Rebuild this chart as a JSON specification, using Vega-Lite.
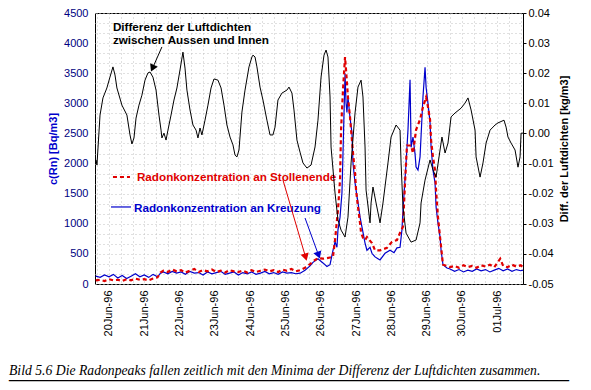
{
  "$schema": "https://vega.github.io/schema/vega-lite/v6.json",
  "width": 428,
  "height": 271,
  "autosize": {"type": "none"},
  "padding": {"left": 95, "top": 13, "right": 68, "bottom": 106},
  "background": "white",
  "config": {
    "view": {"stroke": "black", "strokeWidth": 1, "fill": "white"},
    "font": "Liberation Sans",
    "axis": {"labelFont": "Liberation Sans", "titleFont": "Liberation Sans", "labelFontSize": 11, "titleFontSize": 11, "labelOverlap": false},
    "axisX": {"labelOverlap": false}
  },
  "title": {
    "text": "Bild 5.6  Die Radonpeaks fallen zeitlich mit den Minima der Differenz der Luftdichten zusammen.",
    "subtitle": "________________________________________________________",
    "orient": "bottom",
    "anchor": "start",
    "frame": "group",
    "dx": -86,
    "offset": 28,
    "font": "Liberation Serif",
    "fontStyle": "italic",
    "fontWeight": "normal",
    "fontSize": 13.7,
    "color": "black",
    "subtitleFont": "Liberation Serif",
    "subtitleFontStyle": "normal",
    "subtitleFontSize": 20,
    "subtitleColor": "black",
    "subtitlePadding": -16
  },
  "datasets": {
    "radon": [
      {"t": "1996-06-19T15:00", "ort": "Kreuzung", "c": 130},
      {"t": "1996-06-19T18:00", "ort": "Kreuzung", "c": 110},
      {"t": "1996-06-19T21:00", "ort": "Kreuzung", "c": 150},
      {"t": "1996-06-20T00:00", "ort": "Kreuzung", "c": 120},
      {"t": "1996-06-20T03:00", "ort": "Kreuzung", "c": 160},
      {"t": "1996-06-20T06:00", "ort": "Kreuzung", "c": 100},
      {"t": "1996-06-20T09:00", "ort": "Kreuzung", "c": 140},
      {"t": "1996-06-20T12:00", "ort": "Kreuzung", "c": 90},
      {"t": "1996-06-20T15:00", "ort": "Kreuzung", "c": 130},
      {"t": "1996-06-20T18:00", "ort": "Kreuzung", "c": 170},
      {"t": "1996-06-20T21:00", "ort": "Kreuzung", "c": 120},
      {"t": "1996-06-21T00:00", "ort": "Kreuzung", "c": 150},
      {"t": "1996-06-21T03:00", "ort": "Kreuzung", "c": 110},
      {"t": "1996-06-21T06:00", "ort": "Kreuzung", "c": 160},
      {"t": "1996-06-21T09:00", "ort": "Kreuzung", "c": 120},
      {"t": "1996-06-21T11:00", "ort": "Kreuzung", "c": 180},
      {"t": "1996-06-21T13:00", "ort": "Kreuzung", "c": 200},
      {"t": "1996-06-21T16:00", "ort": "Kreuzung", "c": 170},
      {"t": "1996-06-21T19:00", "ort": "Kreuzung", "c": 210},
      {"t": "1996-06-21T22:00", "ort": "Kreuzung", "c": 180},
      {"t": "1996-06-22T01:00", "ort": "Kreuzung", "c": 200},
      {"t": "1996-06-22T04:00", "ort": "Kreuzung", "c": 160},
      {"t": "1996-06-22T07:00", "ort": "Kreuzung", "c": 210},
      {"t": "1996-06-22T10:00", "ort": "Kreuzung", "c": 180},
      {"t": "1996-06-22T13:00", "ort": "Kreuzung", "c": 190},
      {"t": "1996-06-22T16:00", "ort": "Kreuzung", "c": 150},
      {"t": "1996-06-22T19:00", "ort": "Kreuzung", "c": 200},
      {"t": "1996-06-22T22:00", "ort": "Kreuzung", "c": 170},
      {"t": "1996-06-23T01:00", "ort": "Kreuzung", "c": 190},
      {"t": "1996-06-23T04:00", "ort": "Kreuzung", "c": 210},
      {"t": "1996-06-23T07:00", "ort": "Kreuzung", "c": 160},
      {"t": "1996-06-23T10:00", "ort": "Kreuzung", "c": 180},
      {"t": "1996-06-23T13:00", "ort": "Kreuzung", "c": 200},
      {"t": "1996-06-23T16:00", "ort": "Kreuzung", "c": 150},
      {"t": "1996-06-23T19:00", "ort": "Kreuzung", "c": 190},
      {"t": "1996-06-23T22:00", "ort": "Kreuzung", "c": 170},
      {"t": "1996-06-24T01:00", "ort": "Kreuzung", "c": 200},
      {"t": "1996-06-24T04:00", "ort": "Kreuzung", "c": 160},
      {"t": "1996-06-24T07:00", "ort": "Kreuzung", "c": 180},
      {"t": "1996-06-24T10:00", "ort": "Kreuzung", "c": 210},
      {"t": "1996-06-24T13:00", "ort": "Kreuzung", "c": 170},
      {"t": "1996-06-24T16:00", "ort": "Kreuzung", "c": 190},
      {"t": "1996-06-24T19:00", "ort": "Kreuzung", "c": 160},
      {"t": "1996-06-24T22:00", "ort": "Kreuzung", "c": 200},
      {"t": "1996-06-25T01:00", "ort": "Kreuzung", "c": 180},
      {"t": "1996-06-25T04:00", "ort": "Kreuzung", "c": 190},
      {"t": "1996-06-25T07:00", "ort": "Kreuzung", "c": 170},
      {"t": "1996-06-25T10:00", "ort": "Kreuzung", "c": 180},
      {"t": "1996-06-25T13:18", "ort": "Kreuzung", "c": 230},
      {"t": "1996-06-25T16:42", "ort": "Kreuzung", "c": 300},
      {"t": "1996-06-25T18:42", "ort": "Kreuzung", "c": 360},
      {"t": "1996-06-25T22:06", "ort": "Kreuzung", "c": 420},
      {"t": "1996-06-26T01:30", "ort": "Kreuzung", "c": 350},
      {"t": "1996-06-26T04:12", "ort": "Kreuzung", "c": 290},
      {"t": "1996-06-26T06:18", "ort": "Kreuzung", "c": 320},
      {"t": "1996-06-26T08:18", "ort": "Kreuzung", "c": 560},
      {"t": "1996-06-26T09:42", "ort": "Kreuzung", "c": 700},
      {"t": "1996-06-26T11:00", "ort": "Kreuzung", "c": 610},
      {"t": "1996-06-26T11:42", "ort": "Kreuzung", "c": 900},
      {"t": "1996-06-26T13:06", "ort": "Kreuzung", "c": 1110},
      {"t": "1996-06-26T14:24", "ort": "Kreuzung", "c": 1510},
      {"t": "1996-06-26T15:06", "ort": "Kreuzung", "c": 2160},
      {"t": "1996-06-26T16:30", "ort": "Kreuzung", "c": 3500},
      {"t": "1996-06-26T17:12", "ort": "Kreuzung", "c": 3000},
      {"t": "1996-06-26T17:48", "ort": "Kreuzung", "c": 2850},
      {"t": "1996-06-26T18:30", "ort": "Kreuzung", "c": 3100},
      {"t": "1996-06-26T19:54", "ort": "Kreuzung", "c": 2760},
      {"t": "1996-06-26T21:12", "ort": "Kreuzung", "c": 2510},
      {"t": "1996-06-26T21:54", "ort": "Kreuzung", "c": 2010},
      {"t": "1996-06-26T23:18", "ort": "Kreuzung", "c": 1680},
      {"t": "1996-06-27T00:00", "ort": "Kreuzung", "c": 1560},
      {"t": "1996-06-27T01:18", "ort": "Kreuzung", "c": 1350},
      {"t": "1996-06-27T02:42", "ort": "Kreuzung", "c": 1110},
      {"t": "1996-06-27T04:00", "ort": "Kreuzung", "c": 950},
      {"t": "1996-06-27T06:06", "ort": "Kreuzung", "c": 680},
      {"t": "1996-06-27T07:24", "ort": "Kreuzung", "c": 560},
      {"t": "1996-06-27T09:30", "ort": "Kreuzung", "c": 610},
      {"t": "1996-06-27T10:48", "ort": "Kreuzung", "c": 510},
      {"t": "1996-06-27T12:54", "ort": "Kreuzung", "c": 450},
      {"t": "1996-06-27T14:54", "ort": "Kreuzung", "c": 420},
      {"t": "1996-06-27T16:18", "ort": "Kreuzung", "c": 400},
      {"t": "1996-06-27T19:42", "ort": "Kreuzung", "c": 510},
      {"t": "1996-06-27T23:06", "ort": "Kreuzung", "c": 560},
      {"t": "1996-06-28T01:48", "ort": "Kreuzung", "c": 520},
      {"t": "1996-06-28T03:48", "ort": "Kreuzung", "c": 600},
      {"t": "1996-06-28T05:54", "ort": "Kreuzung", "c": 610},
      {"t": "1996-06-28T07:12", "ort": "Kreuzung", "c": 900},
      {"t": "1996-06-28T07:54", "ort": "Kreuzung", "c": 1230},
      {"t": "1996-06-28T10:00", "ort": "Kreuzung", "c": 2010},
      {"t": "1996-06-28T11:18", "ort": "Kreuzung", "c": 2560},
      {"t": "1996-06-28T12:42", "ort": "Kreuzung", "c": 3390},
      {"t": "1996-06-28T13:24", "ort": "Kreuzung", "c": 2270},
      {"t": "1996-06-28T14:42", "ort": "Kreuzung", "c": 2440},
      {"t": "1996-06-28T16:06", "ort": "Kreuzung", "c": 2160},
      {"t": "1996-06-28T16:48", "ort": "Kreuzung", "c": 1940},
      {"t": "1996-06-28T18:06", "ort": "Kreuzung", "c": 1890},
      {"t": "1996-06-28T19:30", "ort": "Kreuzung", "c": 2110},
      {"t": "1996-06-28T21:30", "ort": "Kreuzung", "c": 3110},
      {"t": "1996-06-28T22:54", "ort": "Kreuzung", "c": 3600},
      {"t": "1996-06-28T23:36", "ort": "Kreuzung", "c": 3270},
      {"t": "1996-06-29T00:54", "ort": "Kreuzung", "c": 3000},
      {"t": "1996-06-29T02:18", "ort": "Kreuzung", "c": 2680},
      {"t": "1996-06-29T03:00", "ort": "Kreuzung", "c": 2280},
      {"t": "1996-06-29T04:18", "ort": "Kreuzung", "c": 1890},
      {"t": "1996-06-29T05:42", "ort": "Kreuzung", "c": 1680},
      {"t": "1996-06-29T06:24", "ort": "Kreuzung", "c": 1280},
      {"t": "1996-06-29T07:42", "ort": "Kreuzung", "c": 1010},
      {"t": "1996-06-29T09:06", "ort": "Kreuzung", "c": 780},
      {"t": "1996-06-29T09:48", "ort": "Kreuzung", "c": 560},
      {"t": "1996-06-29T11:06", "ort": "Kreuzung", "c": 320},
      {"t": "1996-06-29T13:48", "ort": "Kreuzung", "c": 265},
      {"t": "1996-06-29T15:54", "ort": "Kreuzung", "c": 250},
      {"t": "1996-06-29T19:00", "ort": "Kreuzung", "c": 210},
      {"t": "1996-06-29T22:00", "ort": "Kreuzung", "c": 240},
      {"t": "1996-06-30T01:00", "ort": "Kreuzung", "c": 200},
      {"t": "1996-06-30T04:00", "ort": "Kreuzung", "c": 230},
      {"t": "1996-06-30T07:00", "ort": "Kreuzung", "c": 210},
      {"t": "1996-06-30T10:00", "ort": "Kreuzung", "c": 250},
      {"t": "1996-06-30T13:00", "ort": "Kreuzung", "c": 220},
      {"t": "1996-06-30T16:00", "ort": "Kreuzung", "c": 240},
      {"t": "1996-06-30T19:00", "ort": "Kreuzung", "c": 200},
      {"t": "1996-06-30T22:00", "ort": "Kreuzung", "c": 230},
      {"t": "1996-07-01T01:00", "ort": "Kreuzung", "c": 260},
      {"t": "1996-07-01T04:00", "ort": "Kreuzung", "c": 220},
      {"t": "1996-07-01T07:00", "ort": "Kreuzung", "c": 250},
      {"t": "1996-07-01T10:00", "ort": "Kreuzung", "c": 210},
      {"t": "1996-07-01T13:00", "ort": "Kreuzung", "c": 240},
      {"t": "1996-07-01T16:00", "ort": "Kreuzung", "c": 220},
      {"t": "1996-07-01T17:30", "ort": "Kreuzung", "c": 230},
      {"t": "1996-06-19T15:00", "ort": "Stollenende", "c": 60},
      {"t": "1996-06-19T18:00", "ort": "Stollenende", "c": 70},
      {"t": "1996-06-19T21:00", "ort": "Stollenende", "c": 50},
      {"t": "1996-06-20T00:00", "ort": "Stollenende", "c": 80},
      {"t": "1996-06-20T03:00", "ort": "Stollenende", "c": 60},
      {"t": "1996-06-20T06:00", "ort": "Stollenende", "c": 70},
      {"t": "1996-06-20T09:00", "ort": "Stollenende", "c": 50},
      {"t": "1996-06-20T12:00", "ort": "Stollenende", "c": 80},
      {"t": "1996-06-20T15:00", "ort": "Stollenende", "c": 60},
      {"t": "1996-06-20T18:00", "ort": "Stollenende", "c": 90},
      {"t": "1996-06-20T21:00", "ort": "Stollenende", "c": 70},
      {"t": "1996-06-21T00:00", "ort": "Stollenende", "c": 80},
      {"t": "1996-06-21T03:00", "ort": "Stollenende", "c": 60},
      {"t": "1996-06-21T06:00", "ort": "Stollenende", "c": 90},
      {"t": "1996-06-21T09:00", "ort": "Stollenende", "c": 110},
      {"t": "1996-06-21T11:00", "ort": "Stollenende", "c": 190},
      {"t": "1996-06-21T13:00", "ort": "Stollenende", "c": 220},
      {"t": "1996-06-21T16:00", "ort": "Stollenende", "c": 200},
      {"t": "1996-06-21T19:00", "ort": "Stollenende", "c": 240},
      {"t": "1996-06-21T22:00", "ort": "Stollenende", "c": 210},
      {"t": "1996-06-22T01:00", "ort": "Stollenende", "c": 230},
      {"t": "1996-06-22T04:00", "ort": "Stollenende", "c": 190},
      {"t": "1996-06-22T07:00", "ort": "Stollenende", "c": 220},
      {"t": "1996-06-22T10:00", "ort": "Stollenende", "c": 250},
      {"t": "1996-06-22T13:00", "ort": "Stollenende", "c": 200},
      {"t": "1996-06-22T16:00", "ort": "Stollenende", "c": 230},
      {"t": "1996-06-22T19:00", "ort": "Stollenende", "c": 210},
      {"t": "1996-06-22T22:00", "ort": "Stollenende", "c": 240},
      {"t": "1996-06-23T01:00", "ort": "Stollenende", "c": 200},
      {"t": "1996-06-23T04:00", "ort": "Stollenende", "c": 220},
      {"t": "1996-06-23T07:00", "ort": "Stollenende", "c": 190},
      {"t": "1996-06-23T10:00", "ort": "Stollenende", "c": 230},
      {"t": "1996-06-23T13:00", "ort": "Stollenende", "c": 210},
      {"t": "1996-06-23T16:00", "ort": "Stollenende", "c": 200},
      {"t": "1996-06-23T19:00", "ort": "Stollenende", "c": 220},
      {"t": "1996-06-23T22:00", "ort": "Stollenende", "c": 190},
      {"t": "1996-06-24T01:00", "ort": "Stollenende", "c": 230},
      {"t": "1996-06-24T04:00", "ort": "Stollenende", "c": 200},
      {"t": "1996-06-24T07:00", "ort": "Stollenende", "c": 220},
      {"t": "1996-06-24T10:00", "ort": "Stollenende", "c": 240},
      {"t": "1996-06-24T13:00", "ort": "Stollenende", "c": 210},
      {"t": "1996-06-24T16:00", "ort": "Stollenende", "c": 230},
      {"t": "1996-06-24T19:00", "ort": "Stollenende", "c": 200},
      {"t": "1996-06-24T22:00", "ort": "Stollenende", "c": 240},
      {"t": "1996-06-25T01:00", "ort": "Stollenende", "c": 220},
      {"t": "1996-06-25T04:00", "ort": "Stollenende", "c": 250},
      {"t": "1996-06-25T07:00", "ort": "Stollenende", "c": 210},
      {"t": "1996-06-25T10:00", "ort": "Stollenende", "c": 230},
      {"t": "1996-06-25T13:18", "ort": "Stollenende", "c": 270},
      {"t": "1996-06-25T16:42", "ort": "Stollenende", "c": 330},
      {"t": "1996-06-25T19:00", "ort": "Stollenende", "c": 380},
      {"t": "1996-06-25T22:06", "ort": "Stollenende", "c": 430},
      {"t": "1996-06-26T01:30", "ort": "Stollenende", "c": 420},
      {"t": "1996-06-26T04:12", "ort": "Stollenende", "c": 430},
      {"t": "1996-06-26T06:18", "ort": "Stollenende", "c": 440},
      {"t": "1996-06-26T08:18", "ort": "Stollenende", "c": 450},
      {"t": "1996-06-26T09:42", "ort": "Stollenende", "c": 730},
      {"t": "1996-06-26T11:42", "ort": "Stollenende", "c": 1230},
      {"t": "1996-06-26T13:06", "ort": "Stollenende", "c": 1730},
      {"t": "1996-06-26T13:48", "ort": "Stollenende", "c": 2560},
      {"t": "1996-06-26T15:06", "ort": "Stollenende", "c": 3220},
      {"t": "1996-06-26T16:30", "ort": "Stollenende", "c": 3770},
      {"t": "1996-06-26T17:12", "ort": "Stollenende", "c": 3550},
      {"t": "1996-06-26T18:30", "ort": "Stollenende", "c": 3100},
      {"t": "1996-06-26T19:54", "ort": "Stollenende", "c": 2770},
      {"t": "1996-06-26T20:36", "ort": "Stollenende", "c": 2560},
      {"t": "1996-06-26T21:54", "ort": "Stollenende", "c": 2180},
      {"t": "1996-06-26T23:18", "ort": "Stollenende", "c": 1840},
      {"t": "1996-06-27T00:00", "ort": "Stollenende", "c": 1560},
      {"t": "1996-06-27T01:18", "ort": "Stollenende", "c": 1280},
      {"t": "1996-06-27T02:42", "ort": "Stollenende", "c": 1010},
      {"t": "1996-06-27T03:24", "ort": "Stollenende", "c": 850},
      {"t": "1996-06-27T04:42", "ort": "Stollenende", "c": 770},
      {"t": "1996-06-27T06:06", "ort": "Stollenende", "c": 730},
      {"t": "1996-06-27T07:24", "ort": "Stollenende", "c": 780},
      {"t": "1996-06-27T10:48", "ort": "Stollenende", "c": 680},
      {"t": "1996-06-27T12:54", "ort": "Stollenende", "c": 560},
      {"t": "1996-06-27T16:18", "ort": "Stollenende", "c": 560},
      {"t": "1996-06-27T21:00", "ort": "Stollenende", "c": 600},
      {"t": "1996-06-28T00:24", "ort": "Stollenende", "c": 700},
      {"t": "1996-06-28T03:48", "ort": "Stollenende", "c": 730},
      {"t": "1996-06-28T05:54", "ort": "Stollenende", "c": 850},
      {"t": "1996-06-28T07:54", "ort": "Stollenende", "c": 950},
      {"t": "1996-06-28T09:18", "ort": "Stollenende", "c": 1680},
      {"t": "1996-06-28T10:36", "ort": "Stollenende", "c": 2300},
      {"t": "1996-06-28T13:24", "ort": "Stollenende", "c": 2300},
      {"t": "1996-06-28T14:42", "ort": "Stollenende", "c": 2170},
      {"t": "1996-06-28T16:48", "ort": "Stollenende", "c": 2560},
      {"t": "1996-06-28T19:30", "ort": "Stollenende", "c": 2730},
      {"t": "1996-06-28T21:30", "ort": "Stollenende", "c": 2940},
      {"t": "1996-06-28T23:36", "ort": "Stollenende", "c": 3100},
      {"t": "1996-06-29T00:54", "ort": "Stollenende", "c": 2940},
      {"t": "1996-06-29T02:18", "ort": "Stollenende", "c": 2730},
      {"t": "1996-06-29T03:00", "ort": "Stollenende", "c": 2390},
      {"t": "1996-06-29T04:18", "ort": "Stollenende", "c": 2110},
      {"t": "1996-06-29T05:42", "ort": "Stollenende", "c": 1890},
      {"t": "1996-06-29T06:24", "ort": "Stollenende", "c": 1560},
      {"t": "1996-06-29T07:42", "ort": "Stollenende", "c": 1110},
      {"t": "1996-06-29T09:06", "ort": "Stollenende", "c": 780},
      {"t": "1996-06-29T11:06", "ort": "Stollenende", "c": 320},
      {"t": "1996-06-29T13:48", "ort": "Stollenende", "c": 300},
      {"t": "1996-06-29T15:54", "ort": "Stollenende", "c": 280},
      {"t": "1996-06-29T19:00", "ort": "Stollenende", "c": 300},
      {"t": "1996-06-29T22:00", "ort": "Stollenende", "c": 270},
      {"t": "1996-06-30T01:00", "ort": "Stollenende", "c": 310},
      {"t": "1996-06-30T04:00", "ort": "Stollenende", "c": 280},
      {"t": "1996-06-30T07:00", "ort": "Stollenende", "c": 300},
      {"t": "1996-06-30T10:00", "ort": "Stollenende", "c": 270},
      {"t": "1996-06-30T13:00", "ort": "Stollenende", "c": 310},
      {"t": "1996-06-30T16:00", "ort": "Stollenende", "c": 290},
      {"t": "1996-06-30T19:00", "ort": "Stollenende", "c": 320},
      {"t": "1996-06-30T22:00", "ort": "Stollenende", "c": 280},
      {"t": "1996-07-01T02:00", "ort": "Stollenende", "c": 420},
      {"t": "1996-07-01T04:00", "ort": "Stollenende", "c": 300},
      {"t": "1996-07-01T07:00", "ort": "Stollenende", "c": 280},
      {"t": "1996-07-01T10:00", "ort": "Stollenende", "c": 320},
      {"t": "1996-07-01T13:00", "ort": "Stollenende", "c": 290},
      {"t": "1996-07-01T16:00", "ort": "Stollenende", "c": 310},
      {"t": "1996-07-01T17:30", "ort": "Stollenende", "c": 280}
    ],
    "diff": [
      {"t": "1996-06-19T15:15", "d": -0.0088},
      {"t": "1996-06-19T15:50", "d": -0.0105},
      {"t": "1996-06-19T17:55", "d": 0.0061},
      {"t": "1996-06-19T19:55", "d": 0.0118},
      {"t": "1996-06-19T22:35", "d": 0.0151},
      {"t": "1996-06-20T00:40", "d": 0.0187},
      {"t": "1996-06-20T02:42", "d": 0.0221},
      {"t": "1996-06-20T04:06", "d": 0.0194},
      {"t": "1996-06-20T05:24", "d": 0.0151},
      {"t": "1996-06-20T08:48", "d": 0.0094},
      {"t": "1996-06-20T12:12", "d": 0.0061},
      {"t": "1996-06-20T14:18", "d": -0.0005},
      {"t": "1996-06-20T15:36", "d": -0.0035},
      {"t": "1996-06-20T17:00", "d": -0.0015},
      {"t": "1996-06-20T18:24", "d": 0.0051},
      {"t": "1996-06-20T20:24", "d": 0.0094},
      {"t": "1996-06-20T22:24", "d": 0.0127},
      {"t": "1996-06-21T00:30", "d": 0.0177},
      {"t": "1996-06-21T02:30", "d": 0.0201},
      {"t": "1996-06-21T03:54", "d": 0.0204},
      {"t": "1996-06-21T05:54", "d": 0.0187},
      {"t": "1996-06-21T08:00", "d": 0.0144},
      {"t": "1996-06-21T10:00", "d": 0.0061},
      {"t": "1996-06-21T11:24", "d": 0.0011},
      {"t": "1996-06-21T12:00", "d": -0.0015},
      {"t": "1996-06-21T13:24", "d": 0.0001},
      {"t": "1996-06-21T14:48", "d": -0.0022},
      {"t": "1996-06-21T16:06", "d": 0.0011},
      {"t": "1996-06-21T18:12", "d": 0.0061},
      {"t": "1996-06-21T20:12", "d": 0.0111},
      {"t": "1996-06-21T22:12", "d": 0.0151},
      {"t": "1996-06-22T00:18", "d": 0.0211},
      {"t": "1996-06-22T02:18", "d": 0.0270},
      {"t": "1996-06-22T03:42", "d": 0.0217},
      {"t": "1996-06-22T05:00", "d": 0.0144},
      {"t": "1996-06-22T07:06", "d": 0.0078},
      {"t": "1996-06-22T09:06", "d": 0.0028},
      {"t": "1996-06-22T11:12", "d": 0.0011},
      {"t": "1996-06-22T12:30", "d": -0.0015},
      {"t": "1996-06-22T13:54", "d": 0.0018},
      {"t": "1996-06-22T15:12", "d": -0.0005},
      {"t": "1996-06-22T17:18", "d": 0.0044},
      {"t": "1996-06-22T19:18", "d": 0.0094},
      {"t": "1996-06-22T21:24", "d": 0.0151},
      {"t": "1996-06-22T23:24", "d": 0.0181},
      {"t": "1996-06-23T02:06", "d": 0.0177},
      {"t": "1996-06-23T04:12", "d": 0.0151},
      {"t": "1996-06-23T06:12", "d": 0.0094},
      {"t": "1996-06-23T08:12", "d": 0.0028},
      {"t": "1996-06-23T10:18", "d": -0.0012},
      {"t": "1996-06-23T12:18", "d": -0.0038},
      {"t": "1996-06-23T13:42", "d": -0.0072},
      {"t": "1996-06-23T15:00", "d": -0.0078},
      {"t": "1996-06-23T16:24", "d": -0.0055},
      {"t": "1996-06-23T18:24", "d": 0.0071},
      {"t": "1996-06-23T20:30", "d": 0.0144},
      {"t": "1996-06-23T23:12", "d": 0.0221},
      {"t": "1996-06-24T01:12", "d": 0.0254},
      {"t": "1996-06-24T01:54", "d": 0.0260},
      {"t": "1996-06-24T03:18", "d": 0.0254},
      {"t": "1996-06-24T04:36", "d": 0.0221},
      {"t": "1996-06-24T06:42", "d": 0.0154},
      {"t": "1996-06-24T08:42", "d": 0.0111},
      {"t": "1996-06-24T11:24", "d": 0.0044},
      {"t": "1996-06-24T13:30", "d": -0.0005},
      {"t": "1996-06-24T15:30", "d": -0.0005},
      {"t": "1996-06-24T16:54", "d": 0.0021},
      {"t": "1996-06-24T18:54", "d": 0.0111},
      {"t": "1996-06-24T21:36", "d": 0.0134},
      {"t": "1996-06-25T01:00", "d": 0.0144},
      {"t": "1996-06-25T02:24", "d": 0.0154},
      {"t": "1996-06-25T04:24", "d": 0.0134},
      {"t": "1996-06-25T05:48", "d": 0.0078},
      {"t": "1996-06-25T07:48", "d": -0.0022},
      {"t": "1996-06-25T09:54", "d": -0.0062},
      {"t": "1996-06-25T11:54", "d": -0.0098},
      {"t": "1996-06-25T14:36", "d": -0.0115},
      {"t": "1996-06-25T17:24", "d": -0.0105},
      {"t": "1996-06-25T20:06", "d": -0.0045},
      {"t": "1996-06-25T22:06", "d": 0.0044},
      {"t": "1996-06-26T00:12", "d": 0.0187},
      {"t": "1996-06-26T02:12", "d": 0.0260},
      {"t": "1996-06-26T03:36", "d": 0.0277},
      {"t": "1996-06-26T04:54", "d": 0.0254},
      {"t": "1996-06-26T06:18", "d": 0.0121},
      {"t": "1996-06-26T07:00", "d": -0.0045},
      {"t": "1996-06-26T09:42", "d": -0.0198},
      {"t": "1996-06-26T11:42", "d": -0.0287},
      {"t": "1996-06-26T13:48", "d": -0.0321},
      {"t": "1996-06-26T16:30", "d": -0.0344},
      {"t": "1996-06-26T18:30", "d": -0.0278},
      {"t": "1996-06-26T20:36", "d": -0.0098},
      {"t": "1996-06-26T23:18", "d": 0.0068},
      {"t": "1996-06-27T01:18", "d": 0.0154},
      {"t": "1996-06-27T03:24", "d": 0.0177},
      {"t": "1996-06-27T04:42", "d": 0.0121},
      {"t": "1996-06-27T06:06", "d": -0.0045},
      {"t": "1996-06-27T06:48", "d": -0.0188},
      {"t": "1996-06-27T09:30", "d": -0.0297},
      {"t": "1996-06-27T10:12", "d": -0.0231},
      {"t": "1996-06-27T11:30", "d": -0.0178},
      {"t": "1996-06-27T13:36", "d": -0.0231},
      {"t": "1996-06-27T16:18", "d": -0.0297},
      {"t": "1996-06-27T18:18", "d": -0.0231},
      {"t": "1996-06-27T21:42", "d": -0.0098},
      {"t": "1996-06-27T23:48", "d": -0.0012},
      {"t": "1996-06-28T03:12", "d": 0.0028},
      {"t": "1996-06-28T05:54", "d": 0.0011},
      {"t": "1996-06-28T06:36", "d": -0.0098},
      {"t": "1996-06-28T07:54", "d": -0.0244},
      {"t": "1996-06-28T10:00", "d": -0.0331},
      {"t": "1996-06-28T13:24", "d": -0.0361},
      {"t": "1996-06-28T16:48", "d": -0.0354},
      {"t": "1996-06-28T19:30", "d": -0.0297},
      {"t": "1996-06-28T20:12", "d": -0.0231},
      {"t": "1996-06-28T22:54", "d": -0.0155},
      {"t": "1996-06-29T02:18", "d": -0.0088},
      {"t": "1996-06-29T04:18", "d": -0.0121},
      {"t": "1996-06-29T06:24", "d": -0.0145},
      {"t": "1996-06-29T09:06", "d": -0.0055},
      {"t": "1996-06-29T10:24", "d": -0.0012},
      {"t": "1996-06-29T12:30", "d": -0.0065},
      {"t": "1996-06-29T14:30", "d": -0.0032},
      {"t": "1996-06-29T16:36", "d": 0.0055},
      {"t": "1996-06-29T19:18", "d": 0.0068},
      {"t": "1996-06-29T23:24", "d": 0.0084},
      {"t": "1996-06-30T02:06", "d": 0.0101},
      {"t": "1996-06-30T04:06", "d": 0.0118},
      {"t": "1996-06-30T06:12", "d": 0.0078},
      {"t": "1996-06-30T08:54", "d": 0.0011},
      {"t": "1996-06-30T09:36", "d": -0.0078},
      {"t": "1996-06-30T12:18", "d": -0.0145},
      {"t": "1996-06-30T14:18", "d": -0.0098},
      {"t": "1996-06-30T16:24", "d": -0.0032},
      {"t": "1996-06-30T19:06", "d": 0.0011},
      {"t": "1996-06-30T22:30", "d": 0.0028},
      {"t": "1996-07-01T00:30", "d": 0.0035},
      {"t": "1996-07-01T04:36", "d": 0.0044},
      {"t": "1996-07-01T06:00", "d": 0.0021},
      {"t": "1996-07-01T07:18", "d": -0.0012},
      {"t": "1996-07-01T09:24", "d": -0.0032},
      {"t": "1996-07-01T12:06", "d": -0.0055},
      {"t": "1996-07-01T14:06", "d": -0.0112},
      {"t": "1996-07-01T15:30", "d": -0.0078},
      {"t": "1996-07-01T16:12", "d": 0.0001},
      {"t": "1996-07-01T17:30", "d": 0.0001}
    ],
    "notiz": [
      {"t": "1996-06-20T02:40", "c": 4268, "text": "Differenz der Luftdichten", "art": "luft"},
      {"t": "1996-06-20T02:40", "c": 4052, "text": "zwischen Aussen und Innen", "art": "luft"},
      {"t": "1996-06-20T19:00", "c": 1777, "text": "Radonkonzentration an Stollenende", "art": "stollen"},
      {"t": "1996-06-20T17:00", "c": 1262, "text": "Radonkonzentration an Kreuzung", "art": "kreuzung"}
    ],
    "legende": [
      {"art": "stollen", "t": "1996-06-20T02:43", "t2": "1996-06-20T14:17", "c": 1777},
      {"art": "kreuzung", "t": "1996-06-20T01:22", "t2": "1996-06-20T15:00", "c": 1279}
    ],
    "pfeile": [
      {"pfeil": "luft", "t": "1996-06-21T12:00", "c": 3936, "t2": "1996-06-21T05:36", "c2": 3582},
      {"pfeil": "stollen", "t": "1996-06-24T22:18", "c": 1727, "t2": "1996-06-25T13:42", "c2": 445},
      {"pfeil": "kreuzung", "t": "1996-06-25T13:18", "c": 1096, "t2": "1996-06-25T22:30", "c2": 478}
    ]
  },
  "layer": [
    {
      "encoding": {
        "x": {
          "field": "t",
          "type": "temporal",
          "scale": {"domain": [
            {"year": 1996, "month": 6, "date": 19, "hours": 14, "minutes": 30},
            {"year": 1996, "month": 7, "date": 1, "hours": 17, "minutes": 30}
          ]},
          "axis": {
            "title": null,
            "values": [
              {"year": 1996, "month": 6, "date": 19, "hours": 16},
              {"year": 1996, "month": 6, "date": 20, "hours": 0}, {"year": 1996, "month": 6, "date": 20, "hours": 8}, {"year": 1996, "month": 6, "date": 20, "hours": 16},
              {"year": 1996, "month": 6, "date": 21, "hours": 0}, {"year": 1996, "month": 6, "date": 21, "hours": 8}, {"year": 1996, "month": 6, "date": 21, "hours": 16},
              {"year": 1996, "month": 6, "date": 22, "hours": 0}, {"year": 1996, "month": 6, "date": 22, "hours": 8}, {"year": 1996, "month": 6, "date": 22, "hours": 16},
              {"year": 1996, "month": 6, "date": 23, "hours": 0}, {"year": 1996, "month": 6, "date": 23, "hours": 8}, {"year": 1996, "month": 6, "date": 23, "hours": 16},
              {"year": 1996, "month": 6, "date": 24, "hours": 0}, {"year": 1996, "month": 6, "date": 24, "hours": 8}, {"year": 1996, "month": 6, "date": 24, "hours": 16},
              {"year": 1996, "month": 6, "date": 25, "hours": 0}, {"year": 1996, "month": 6, "date": 25, "hours": 8}, {"year": 1996, "month": 6, "date": 25, "hours": 16},
              {"year": 1996, "month": 6, "date": 26, "hours": 0}, {"year": 1996, "month": 6, "date": 26, "hours": 8}, {"year": 1996, "month": 6, "date": 26, "hours": 16},
              {"year": 1996, "month": 6, "date": 27, "hours": 0}, {"year": 1996, "month": 6, "date": 27, "hours": 8}, {"year": 1996, "month": 6, "date": 27, "hours": 16},
              {"year": 1996, "month": 6, "date": 28, "hours": 0}, {"year": 1996, "month": 6, "date": 28, "hours": 8}, {"year": 1996, "month": 6, "date": 28, "hours": 16},
              {"year": 1996, "month": 6, "date": 29, "hours": 0}, {"year": 1996, "month": 6, "date": 29, "hours": 8}, {"year": 1996, "month": 6, "date": 29, "hours": 16},
              {"year": 1996, "month": 6, "date": 30, "hours": 0}, {"year": 1996, "month": 6, "date": 30, "hours": 8}, {"year": 1996, "month": 6, "date": 30, "hours": 16},
              {"year": 1996, "month": 7, "date": 1, "hours": 0}, {"year": 1996, "month": 7, "date": 1, "hours": 8}, {"year": 1996, "month": 7, "date": 1, "hours": 16}
            ],
            "labelExpr": "hours(datum.value) == 0 ? timeFormat(datum.value, '%d%b-%y') : ''",
            "labelAngle": 270,
            "labelAlign": "right",
            "labelBaseline": "middle",
            "labelPadding": 6,
            "labelColor": "black",
            "labelOverlap": false,
            "labelFlush": false,
            "labelBound": false,
            "ticks": false,
            "domain": false,
            "grid": true,
            "gridColor": "#c0c0c0",
            "gridDash": [1, 3]
          }
        },
        "y": {
          "field": "c",
          "type": "quantitative",
          "scale": {"domain": [0, 4500], "nice": false},
          "axis": {
            "title": "c(Rn) [Bq/m3]",
            "titleColor": "#0000cc",
            "titleFontWeight": "bold",
            "titlePadding": 5,
            "values": [0, 166.667, 333.333, 500, 666.667, 833.333, 1000, 1166.667, 1333.333, 1500, 1666.667, 1833.333, 2000, 2166.667, 2333.333, 2500, 2666.667, 2833.333, 3000, 3166.667, 3333.333, 3500, 3666.667, 3833.333, 4000, 4166.667, 4333.333, 4500],
            "labelExpr": "datum.value % 500 == 0 ? format(datum.value, 'd') : ''",
            "labelColor": "#000080",
            "labelPadding": 7,
            "labelOverlap": false,
            "ticks": false,
            "domain": false,
            "grid": true,
            "gridColor": "#c0c0c0",
            "gridDash": [1, 3]
          }
        }
      },
      "layer": [
        {
          "data": {"name": "radon"},
          "transform": [{"filter": "datum.ort == 'Kreuzung'"}],
          "mark": {"type": "line", "color": "#0000cc", "strokeWidth": 1.2}
        },
        {
          "data": {"name": "radon"},
          "transform": [{"filter": "datum.ort == 'Stollenende'"}],
          "mark": {"type": "line", "color": "#e00000", "strokeWidth": 2.2, "strokeDash": [4, 3]}
        },
        {
          "data": {"name": "legende"},
          "transform": [{"filter": "datum.art == 'stollen'"}],
          "mark": {"type": "rule", "color": "#e00000", "strokeWidth": 2.2, "strokeDash": [4, 3]},
          "encoding": {"x2": {"field": "t2"}}
        },
        {
          "data": {"name": "legende"},
          "transform": [{"filter": "datum.art == 'kreuzung'"}],
          "mark": {"type": "rule", "color": "#0000cc", "strokeWidth": 1.2},
          "encoding": {"x2": {"field": "t2"}}
        },
        {
          "data": {"name": "notiz"},
          "transform": [{"filter": "datum.art == 'luft'"}],
          "mark": {"type": "text", "align": "left", "baseline": "middle", "font": "Liberation Sans", "fontSize": 11.7, "fontWeight": "bold", "color": "black"},
          "encoding": {"text": {"field": "text"}}
        },
        {
          "data": {"name": "notiz"},
          "transform": [{"filter": "datum.art == 'stollen'"}],
          "mark": {"type": "text", "align": "left", "baseline": "middle", "font": "Liberation Sans", "fontSize": 11.7, "fontWeight": "bold", "color": "#e00000"},
          "encoding": {"text": {"field": "text"}}
        },
        {
          "data": {"name": "notiz"},
          "transform": [{"filter": "datum.art == 'kreuzung'"}],
          "mark": {"type": "text", "align": "left", "baseline": "middle", "font": "Liberation Sans", "fontSize": 11.7, "fontWeight": "bold", "color": "#0000cc"},
          "encoding": {"text": {"field": "text"}}
        },
        {
          "data": {"name": "pfeile"},
          "transform": [{"filter": "datum.pfeil == 'luft'"}],
          "mark": {"type": "rule", "color": "black", "strokeWidth": 1},
          "encoding": {"x2": {"field": "t2"}, "y2": {"field": "c2"}}
        },
        {
          "data": {"name": "pfeile"},
          "transform": [{"filter": "datum.pfeil == 'luft'"}],
          "mark": {"type": "point", "shape": "triangle-up", "filled": true, "color": "black", "opacity": 1, "size": 70, "angle": 204},
          "encoding": {"x": {"field": "t2", "type": "temporal"}, "y": {"field": "c2", "type": "quantitative"}}
        },
        {
          "data": {"name": "pfeile"},
          "transform": [{"filter": "datum.pfeil == 'stollen'"}],
          "mark": {"type": "rule", "color": "#e00000", "strokeWidth": 1},
          "encoding": {"x2": {"field": "t2"}, "y2": {"field": "c2"}}
        },
        {
          "data": {"name": "pfeile"},
          "transform": [{"filter": "datum.pfeil == 'stollen'"}],
          "mark": {"type": "point", "shape": "triangle-up", "filled": true, "color": "#e00000", "opacity": 1, "size": 70, "angle": 164},
          "encoding": {"x": {"field": "t2", "type": "temporal"}, "y": {"field": "c2", "type": "quantitative"}}
        },
        {
          "data": {"name": "pfeile"},
          "transform": [{"filter": "datum.pfeil == 'kreuzung'"}],
          "mark": {"type": "rule", "color": "#0000cc", "strokeWidth": 1},
          "encoding": {"x2": {"field": "t2"}, "y2": {"field": "c2"}}
        },
        {
          "data": {"name": "pfeile"},
          "transform": [{"filter": "datum.pfeil == 'kreuzung'"}],
          "mark": {"type": "point", "shape": "triangle-up", "filled": true, "color": "#0000cc", "opacity": 1, "size": 70, "angle": 160},
          "encoding": {"x": {"field": "t2", "type": "temporal"}, "y": {"field": "c2", "type": "quantitative"}}
        }
      ]
    },
    {
      "data": {"name": "diff"},
      "mark": {"type": "line", "color": "black", "strokeWidth": 1},
      "encoding": {
        "x": {
          "field": "t",
          "type": "temporal",
          "axis": {
            "title": null,
            "values": [
              {"year": 1996, "month": 6, "date": 19, "hours": 16},
              {"year": 1996, "month": 6, "date": 20, "hours": 0}, {"year": 1996, "month": 6, "date": 20, "hours": 8}, {"year": 1996, "month": 6, "date": 20, "hours": 16},
              {"year": 1996, "month": 6, "date": 21, "hours": 0}, {"year": 1996, "month": 6, "date": 21, "hours": 8}, {"year": 1996, "month": 6, "date": 21, "hours": 16},
              {"year": 1996, "month": 6, "date": 22, "hours": 0}, {"year": 1996, "month": 6, "date": 22, "hours": 8}, {"year": 1996, "month": 6, "date": 22, "hours": 16},
              {"year": 1996, "month": 6, "date": 23, "hours": 0}, {"year": 1996, "month": 6, "date": 23, "hours": 8}, {"year": 1996, "month": 6, "date": 23, "hours": 16},
              {"year": 1996, "month": 6, "date": 24, "hours": 0}, {"year": 1996, "month": 6, "date": 24, "hours": 8}, {"year": 1996, "month": 6, "date": 24, "hours": 16},
              {"year": 1996, "month": 6, "date": 25, "hours": 0}, {"year": 1996, "month": 6, "date": 25, "hours": 8}, {"year": 1996, "month": 6, "date": 25, "hours": 16},
              {"year": 1996, "month": 6, "date": 26, "hours": 0}, {"year": 1996, "month": 6, "date": 26, "hours": 8}, {"year": 1996, "month": 6, "date": 26, "hours": 16},
              {"year": 1996, "month": 6, "date": 27, "hours": 0}, {"year": 1996, "month": 6, "date": 27, "hours": 8}, {"year": 1996, "month": 6, "date": 27, "hours": 16},
              {"year": 1996, "month": 6, "date": 28, "hours": 0}, {"year": 1996, "month": 6, "date": 28, "hours": 8}, {"year": 1996, "month": 6, "date": 28, "hours": 16},
              {"year": 1996, "month": 6, "date": 29, "hours": 0}, {"year": 1996, "month": 6, "date": 29, "hours": 8}, {"year": 1996, "month": 6, "date": 29, "hours": 16},
              {"year": 1996, "month": 6, "date": 30, "hours": 0}, {"year": 1996, "month": 6, "date": 30, "hours": 8}, {"year": 1996, "month": 6, "date": 30, "hours": 16},
              {"year": 1996, "month": 7, "date": 1, "hours": 0}, {"year": 1996, "month": 7, "date": 1, "hours": 8}, {"year": 1996, "month": 7, "date": 1, "hours": 16}
            ],
            "labelExpr": "hours(datum.value) == 0 ? timeFormat(datum.value, '%d%b-%y') : ''",
            "labelAngle": 270,
            "labelAlign": "right",
            "labelBaseline": "middle",
            "labelPadding": 6,
            "labelColor": "black",
            "labelOverlap": false,
            "labelFlush": false,
            "labelBound": false,
            "ticks": false,
            "domain": false,
            "grid": true,
            "gridColor": "#c0c0c0",
            "gridDash": [1, 3]
          }
        },
        "y": {
          "field": "d",
          "type": "quantitative",
          "scale": {"domain": [-0.05, 0.04], "nice": false, "zero": false},
          "axis": {
            "orient": "right",
            "title": "Diff. der Luftdichten [kg/m3]",
            "titleAngle": 270,
            "titleFontWeight": "bold",
            "titleColor": "black",
            "titlePadding": 16,
            "values": [-0.05, -0.04, -0.03, -0.02, -0.01, 0, 0.01, 0.02, 0.03, 0.04],
            "labelExpr": "replace(format(datum.value, '.2f'), '\u2212', '-')",
            "labelColor": "black",
            "labelPadding": 2,
            "tickSize": 3,
            "tickColor": "black",
            "domain": false,
            "grid": false
          }
        }
      }
    }
  ],
  "resolve": {"scale": {"y": "independent"}}
}
